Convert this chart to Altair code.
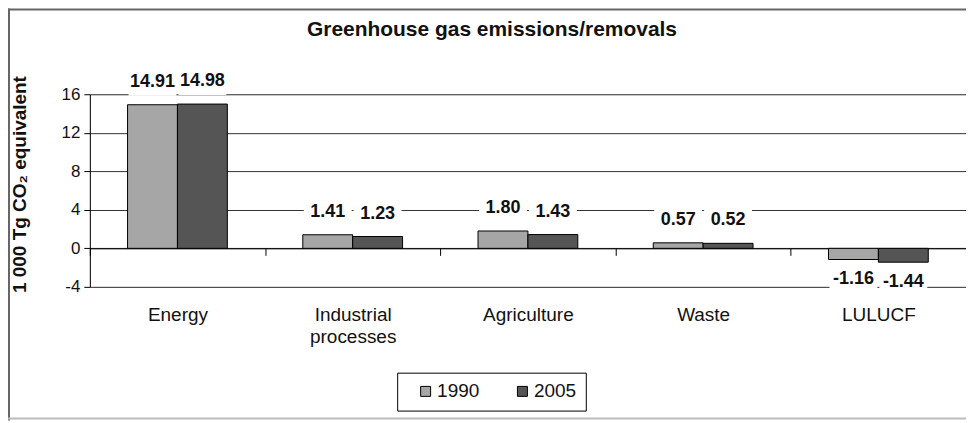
import altair as alt
import pandas as pd

categories = ["Energy", "Industrial processes", "Agriculture", "Waste", "LULUCF"]
years = ["1990", "2005"]
v1990 = [14.91, 1.41, 1.80, 0.57, -1.16]
v2005 = [14.98, 1.23, 1.43, 0.52, -1.44]
y_ticks = [-4, 0, 4, 8, 12, 16]
colors = ["#A6A6A6", "#555555"]
title_text = "Greenhouse gas emissions/removals"
y_title = "1 000 Tg CO₂ equivalent"

rows = []
for c, a, b in zip(categories, v1990, v2005):
    rows.append({"cat": c, "year": "1990", "value": a, "label": f"{a:.2f}"})
    rows.append({"cat": c, "year": "2005", "value": b, "label": f"{b:.2f}"})
df = pd.DataFrame(rows)

FONT = "Liberation Sans"
W, H = 878, 193
PAD_L, PAD_T = 82, 86
TOTAL_H = 413

x_axis = alt.Axis(title=None, orient="bottom", offset=-38.6,
                  domainColor="black", domainWidth=1,
                  tickBand="extent", tickSize=7, tickColor="black",
                  labelPadding=50, labelFontSize=19, labelFont=FONT,
                  labelColor="#111", labelAngle=0, labelLineHeight=22,
                  labelOverlap=False,
                  labelExpr="datum.value == 'Industrial processes' ? ['Industrial', 'processes'] : datum.label")
x_scale = alt.Scale(paddingInner=0, paddingOuter=0)
xo_scale = alt.Scale(paddingInner=0, paddingOuter=0.756)
y_scale = alt.Scale(domain=[-4, 16], nice=False, zero=False)
y_axis = alt.Axis(title=y_title, values=y_ticks, labelOverlap=False,
                  labelExpr="toString(datum.value)",
                  titleFont=FONT, titleFontSize=19, titleFontWeight="bold",
                  titleColor="#111", titleAngle=270, titleX=-70, titleY=90,
                  titleAlign="center", titleBaseline="middle",
                  labelFont=FONT, labelFontSize=17, labelColor="#111",
                  labelPadding=4, tickSize=6, tickColor="black",
                  domainColor="black", gridColor="#333", gridWidth=1)

def enc():
    return dict(x=alt.X("cat:N", sort=categories, scale=x_scale, axis=x_axis),
                xOffset=alt.XOffset("year:N", sort=years, scale=xo_scale),
                y=alt.Y("value:Q", scale=y_scale, axis=y_axis))

base = alt.Chart(df)

bars = base.mark_bar(stroke="black", strokeWidth=1).encode(
    **enc(), y2=alt.datum(0),
    color=alt.Color("year:N", sort=years, scale=alt.Scale(domain=years, range=colors),
                    legend=alt.Legend(title=None, orient="none", legendX=308, legendY=279,
                                      direction="horizontal", symbolType="square",
                                      symbolSize=100, symbolStrokeColor="black",
                                      symbolStrokeWidth=1, symbolOffset=10,
                                      labelFont=FONT, labelFontSize=19, labelColor="#111",
                                      labelOffset=2, columnPadding=23,
                                      padding=9, strokeColor="black", fillColor="white"))
)

mask_shape = "M-1,-0.58H1V0.58H-1Z"
pos = base.transform_filter("datum.value >= 0")
neg = base.transform_filter("datum.value < 0")

mask_pos = pos.mark_point(shape=mask_shape, filled=True, fill="white", opacity=1,
                          strokeWidth=0, size=2304, yOffset=-23).encode(**enc())
mask_neg = neg.mark_point(shape=mask_shape, filled=True, fill="white", opacity=1,
                          strokeWidth=0, size=2304, yOffset=20).encode(**enc())
txt_pos = pos.mark_text(font=FONT, fontSize=18, fontWeight="bold", color="#111",
                        baseline="middle", dy=-23).encode(**enc(), text="label:N")
txt_neg = neg.mark_text(font=FONT, fontSize=18, fontWeight="bold", color="#111",
                        baseline="middle", dy=20).encode(**enc(), text="label:N")

one = alt.Data(values=[{"t": title_text}])
title_mark = alt.Chart(one).mark_text(font=FONT, fontSize=21, fontWeight="bold",
                                      color="#111", baseline="middle", align="center").encode(
    x=alt.value(403), y=alt.value(-64), text="t:N")
frame_left = alt.Chart(one).mark_rule(color="#666", strokeWidth=2).encode(
    x=alt.value(-81), y=alt.value(-86), y2=alt.value(TOTAL_H - PAD_T))
frame_top = alt.Chart(one).mark_rule(color="#666", strokeWidth=2).encode(
    x=alt.value(-82), x2=alt.value(W + 10), y=alt.value(-85))
frame_bottom = alt.Chart(one).mark_rule(color="#bbb", strokeWidth=2).encode(
    x=alt.value(-82), x2=alt.value(W + 10), y=alt.value(TOTAL_H - PAD_T - 2))

chart = alt.layer(bars, mask_pos, mask_neg, txt_pos, txt_neg, title_mark,
                  frame_left, frame_top, frame_bottom).properties(
    width=W, height=H,
    autosize=alt.AutoSizeParams(type="none"),
    padding={"left": PAD_L, "top": PAD_T, "right": 0, "bottom": TOTAL_H - PAD_T - H},
).configure_view(strokeWidth=0).configure(background="white")

chart.save("out.html", embed_options={"renderer": "svg", "actions": False})
